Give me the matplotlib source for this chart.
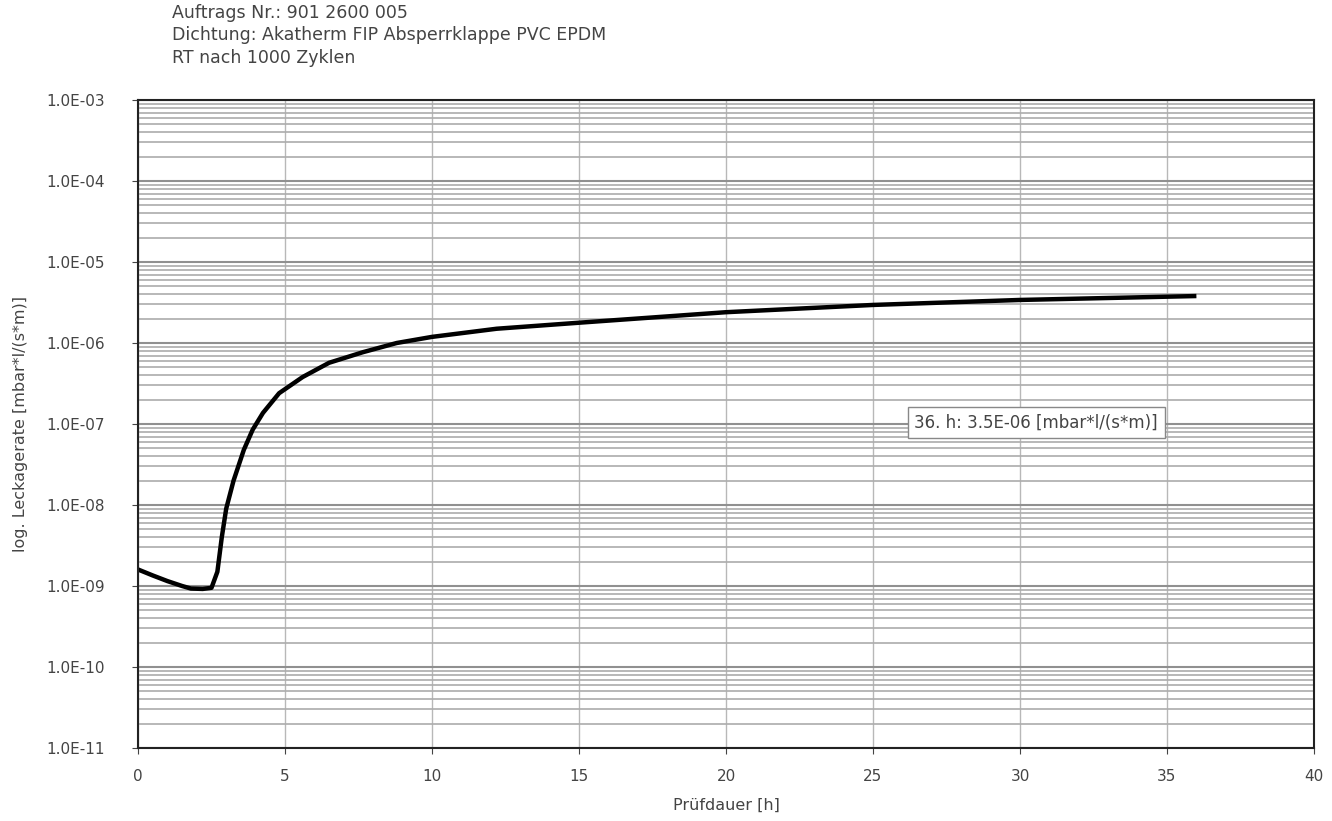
import matplotlib
matplotlib.use('Agg')
import matplotlib.pyplot as plt
from matplotlib.ticker import FixedLocator, LogLocator, NullFormatter

plt.rcParams['font.family'] = ['DejaVu Sans']

zeit_h = [0, 0.5, 1.0, 1.5, 1.8, 2.2, 2.5, 2.7, 2.85, 3.0, 3.25, 3.6, 3.9, 4.25,
          4.8, 5.6, 6.5, 7.65, 8.8, 10, 12.2, 15, 20, 25, 30, 36]
leckrate = [1.6e-9, 1.35e-9, 1.15e-9, 1.0e-9, 0.93e-9, 0.92e-9, 0.95e-9, 1.5e-9,
            4e-9, 9e-9, 2e-8, 4.8e-8, 8.5e-8, 1.37e-7, 2.4e-7, 3.8e-7, 5.7e-7,
            7.7e-7, 1.0e-6, 1.19e-6, 1.5e-6, 1.78e-6, 2.4e-6, 2.95e-6, 3.4e-6, 3.8e-6]
x_ticks = [0, 5, 10, 15, 20, 25, 30, 35, 40]
y_ticks = [1e-11, 1e-10, 1e-9, 1e-8, 1e-7, 1e-6, 1e-5, 1e-4, 1e-3]
kopf = ["Auftrags Nr.: 901 2600 005",
        "Dichtung: Akatherm FIP Absperrklappe PVC EPDM",
        "RT nach 1000 Zyklen"]
hinweis = "36. h: 3.5E-06 [mbar*l/(s*m)]"

fig = plt.figure(figsize=(13.32, 8.21), dpi=100)
ax = fig.add_axes([138/1332, 1-748/821, 1176/1332, 648/821])

ax.set_yscale('log')
ax.set_xlim(0, 40)
ax.set_ylim(1e-11, 1e-3)

ax.plot(zeit_h, leckrate, color='black', lw=3.2, solid_capstyle='butt')

ax.xaxis.set_major_locator(FixedLocator(x_ticks))
ax.yaxis.set_major_locator(FixedLocator(y_ticks))
ax.yaxis.set_minor_locator(LogLocator(base=10, subs=range(2, 10), numticks=20))
ax.yaxis.set_minor_formatter(NullFormatter())
ax.set_yticklabels(['%.1E' % v for v in y_ticks])

ax.grid(True, which='major', axis='x', color='#b8b8b8', lw=1)
ax.grid(True, which='major', axis='y', color='#909090', lw=1.5)
ax.grid(True, which='minor', axis='y', color='#acacac', lw=1.2)
ax.tick_params(axis='y', which='minor', length=0)
ax.tick_params(axis='y', which='major', labelsize=11, colors='#444444', length=4, pad=20)
ax.tick_params(axis='x', which='major', labelsize=11, colors='#444444', length=4, pad=11)
for s in ax.spines.values():
    s.set_color('#222222')
    s.set_linewidth(1.5)

ax.set_xlabel('Prüfdauer [h]', fontsize=11.5, color='#444444')
ax.xaxis.set_label_coords(0.5, -0.077)
ax.set_ylabel('log. Leckagerate [mbar*l/(s*m)]', fontsize=11.5, color='#444444')
ax.yaxis.set_label_coords(-0.0935, 0.5)

for i, z in enumerate(kopf):
    fig.text(172/1332, 1 - (13 + i*22.5)/821, z, fontsize=12.5, color='#444444', va='center')

ax.text(30.55, 1.05e-7, hinweis, fontsize=12, color='#444444', ha='center', va='center',
        bbox=dict(boxstyle='square,pad=0.4', fc='white', ec='#888888', lw=1))

fig.savefig('out.png', dpi=100)
